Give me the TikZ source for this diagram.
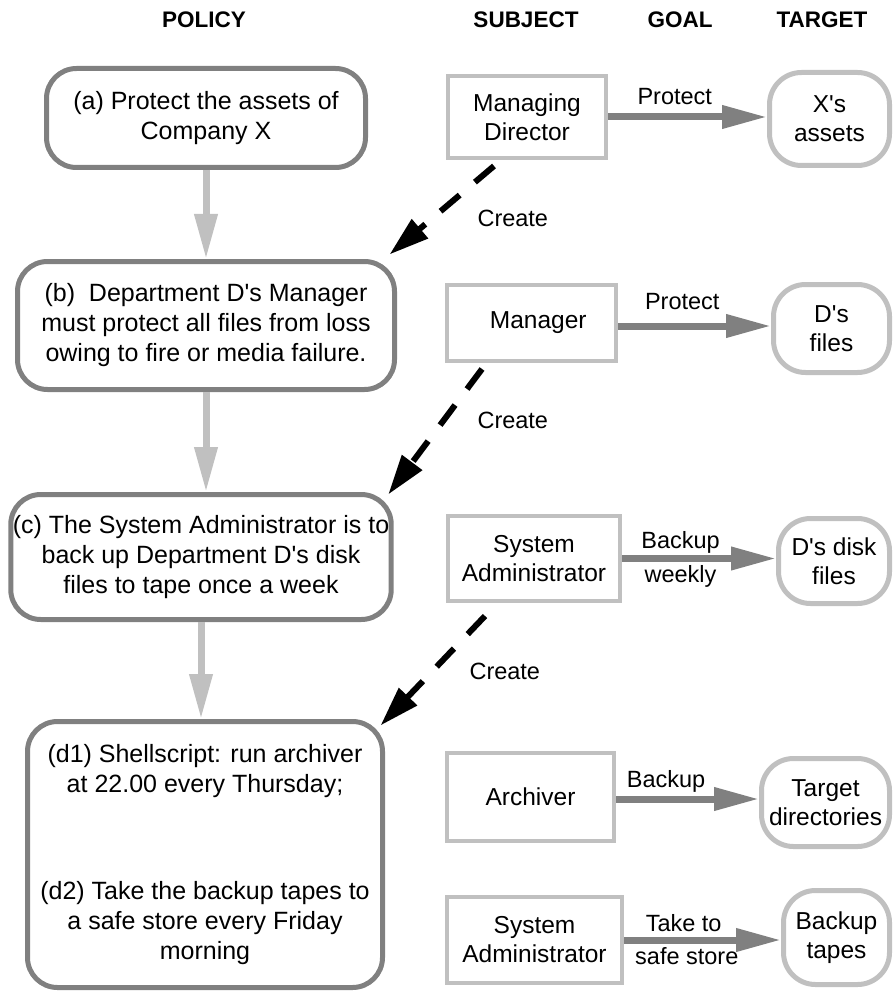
\documentclass[tikz,border=0pt]{standalone}
\usepackage{fontspec}
\setmainfont{Liberation Sans}[Ligatures=TeXOff]
\usetikzlibrary{arrows.meta}

\definecolor{polgray}{HTML}{808080}
\definecolor{ltgray}{HTML}{C0C0C0}
\definecolor{dkgray}{HTML}{808080}

\tikzset{
  policy/.style={draw=polgray, line width=5pt, rounded corners=30pt, align=center, inner sep=2pt, font=\fontsize{25}{30}\selectfont},
  subject/.style={draw=ltgray, line width=4pt, align=center, inner sep=2pt, font=\fontsize{24.5}{29}\selectfont},
  target/.style={draw=ltgray, line width=5pt, rounded corners=32pt, align=center, inner sep=2pt, font=\fontsize{24.5}{29}\selectfont},
  head/.style={anchor=base, font=\bfseries\fontsize{22.5}{27}\selectfont},
  flow/.style={draw=ltgray, line width=7pt, -{Triangle[length=45pt,width=22pt]}},
  goal/.style={draw=dkgray, line width=7pt, -{Triangle[length=45pt,width=22pt]}},
  create/.style={draw=black, line width=6pt, dash pattern=on 25pt off 20pt, -{Triangle[length=40pt,width=24pt]}},
  upper/.style={anchor=base, pos=0.42, yshift=12pt, font=\fontsize{23.5}{28}\selectfont},
  lower/.style={anchor=base, pos=0.42, yshift=-24pt, font=\fontsize{23.5}{28}\selectfont},
  comment/.style={anchor=base west, font=\fontsize{23.5}{28}\selectfont}
}

\begin{document}
\begin{tikzpicture}[x=1pt, y=-1pt]
  \useasboundingbox (0,0) rectangle (894,992);

  % column heads
  \node[head] (hpol) at (204,28) {POLICY};
  \node[head] (hsub) at (526,28) {SUBJECT};
  \node[head] (hgoal) at (680,28) {GOAL};
  \node[head] (htgt) at (822,28) {TARGET};

  % policy hierarchy
  \node[policy, minimum width=319pt, minimum height=99pt] (a) at (206,118) {(a) Protect the assets of\\ Company X};
  \node[policy, minimum width=377pt, minimum height=128pt] (b) at (206,325.5) {(b)\ \ Department D's Manager\\ must protect all files from loss\\ owing to fire or media failure.};
  \node[policy, minimum width=379pt, minimum height=125pt] (c) at (201,557) {(c) The System Administrator is to\\ back up Department D's disk\\ files to tape once a week};
  \node[policy, minimum width=355pt, minimum height=266pt] (d) at (205,854.5) {(d1) Shellscript: run archiver\\ at 22.00 every Thursday;\\[77pt] (d2) Take the backup tapes to\\ a safe store every Friday\\ morning};

  \draw[flow] (a.south) -- (a.south |- b.north);
  \draw[flow] (b.south) -- (b.south |- c.north);
  \draw[flow] (c.south) -- (c.south |- d.north);

  % subjects
  \node[subject, minimum width=158pt, minimum height=82pt] (md) at (527,117) {Managing\\ Director};
  \node[subject, minimum width=169pt, minimum height=76pt] (mgr) at (531.5,323) {\ \ Manager};
  \node[subject, minimum width=172pt, minimum height=85pt] (sa1) at (534,558.5) {System\\ Administrator};
  \node[subject, minimum width=167pt, minimum height=88pt] (arc) at (530.5,797) {Archiver};
  \node[subject, minimum width=175pt, minimum height=86pt] (sa2) at (534.5,940) {System\\ Administrator};

  % targets
  \node[target, minimum width=120pt, minimum height=93pt] (xa) at (829.5,119) {X's\\ assets};
  \node[target, minimum width=116pt, minimum height=88pt] (df) at (831.5,328.5) {D's\\ files};
  \node[target, minimum width=111pt, minimum height=85pt] (ddf) at (834,561) {D's disk\\ files};
  \node[target, minimum width=128pt, minimum height=88pt] (td) at (825.5,802.5) {Target\\ directories};
  \node[target, minimum width=106pt, minimum height=94pt] (bt) at (836.5,937.5) {Backup\\ tapes};

  % goals
  \draw[goal] (md.east) -- (md.east -| xa.west) node[upper] (g1) {Protect};
  \draw[goal] ([yshift=-3pt]mgr.east) -- ([yshift=-3pt]mgr.east -| df.west) node[upper, yshift=5pt] (g2) {Protect};
  \draw[goal] (sa1.east) -- (sa1.east -| ddf.west) node[upper, pos=0.38, yshift=-2pt] (g3) {Backup} node[lower, pos=0.38] (g3b) {weekly};
  \draw[goal] ([yshift=-2pt]arc.east) -- ([yshift=-2pt]arc.east -| td.west) node[upper, pos=0.35] (g4) {Backup};
  \draw[goal] (sa2.east) -- (sa2.east -| bt.west) node[upper, pos=0.38, yshift=-3pt] (g5) {Take to} node[lower, pos=0.4] (g5b) {safe store};

  % creation links
  \coordinate (md-c) at (494,166);
  \coordinate (mgr-c) at (482,369);
  \coordinate (sa1-c) at (485,616);
  \draw[create] (md-c) -- ([xshift=-7.5pt,yshift=4.5pt]b.north east);
  \draw[create] (mgr-c) -- ([xshift=-5.5pt,yshift=-2.5pt]c.north east);
  \draw[create] (sa1-c) -- ([xshift=-4.5pt,yshift=-6.5pt]d.north east);
  \node[comment] (cr1) at (474,226) {Create};
  \node[comment] (cr2) at (474,428) {Create};
  \node[comment] (cr3) at (466,679) {Create};
\end{tikzpicture}
\end{document}
